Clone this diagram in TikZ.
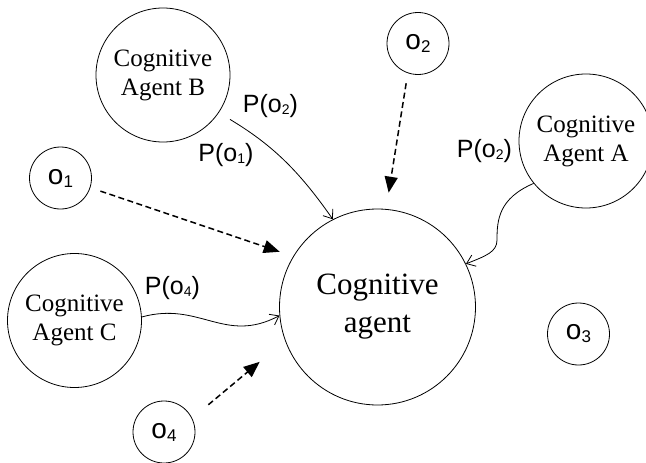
\documentclass[tikz,border=0pt]{standalone}
\usepackage{fontspec}
\setmainfont{Liberation Serif}
\newfontfamily\labelfont{Liberation Sans}
\usetikzlibrary{arrows.meta}
% subscripts for the observation circles and for the probability labels
\newcommand{\osub}[1]{\raisebox{-3pt}{\fontsize{17}{17}\selectfont #1}}
\newcommand{\psub}[1]{\raisebox{-2pt}{\fontsize{14}{14}\selectfont #1}}

\begin{document}
\begin{tikzpicture}[x=1pt,y=-1pt,
  agent/.style={draw, circle, line width=0.8pt, inner sep=0pt, minimum size=134pt,
    align=center, font=\fontsize{25}{29}\selectfont},
  mainagent/.style={agent, minimum size=196pt, font=\fontsize{31}{38}\selectfont},
  obs/.style={draw, circle, line width=0.8pt, inner sep=0pt, minimum size=62pt,
    font=\labelfont\fontsize{28}{28}\selectfont},
  prob/.style={font=\labelfont\fontsize{25}{25}\selectfont, inner sep=0pt},
  msg/.style={line width=0.8pt, -{Straight Barb[length=8pt,width=12pt]}},
  percept/.style={line width=1.5pt, dash pattern=on 6pt off 3.5pt,
    -{Triangle[length=16pt,width=13pt]}},
]
\useasboundingbox (0,0) rectangle (646,463);

% agents
\node[mainagent] (main) at (377.5,307) {Cognitive\\agent};
\node[agent] (agB) at (163,75) {Cognitive\\Agent B};
\node[agent] (agA) at (586,141) {Cognitive\\Agent A};
\node[agent] (agC) at (74.5,320.5) {Cognitive\\Agent C};

% observations
\node[obs] (o1) at (60.5,178) {o\osub{1}};
\node[obs] (o2) at (418,43.5) {o\osub{2}};
\node[obs] (o3) at (578.5,334) {o\osub{3}};
\node[obs] (o4) at (164,432) {o\osub{4}};

% probability labels
\node[prob] (pB2) at (270.5,106) {P(o\psub{2})};
\node[prob] (pB1) at (226,155) {P(o\psub{1})};
\node[prob] (pA2) at (484.5,151.5) {P(o\psub{2})};
\node[prob] (pC4) at (172.5,288.5) {P(o\psub{4})};

% messages from the other agents
\coordinate (aw) at (497,240);
\draw[msg, shorten <=13pt] (agB.-34) to[bend left=12] (main.117.6);
\draw[msg] (agA.219.5) .. controls +(-35,15) and +(0,-20) .. (aw)
  .. controls +(0,12) and +(20,-8) .. (main.26);
\draw[msg] (agC.3.8) .. controls +(58,-16) and +(-55,29) .. (main.185.3);

% direct perception
\draw[percept, shorten <=10.6pt, shorten >=14.2pt] (o1.-18) -- (main.149.1);
\draw[percept, shorten <=10.2pt, shorten >=16.5pt] (o2.251.9) -- (main.85.5);
\draw[percept, shorten <=21pt, shorten >=33pt] (o4.26.1) -- (main.200.2);
\end{tikzpicture}
\end{document}
